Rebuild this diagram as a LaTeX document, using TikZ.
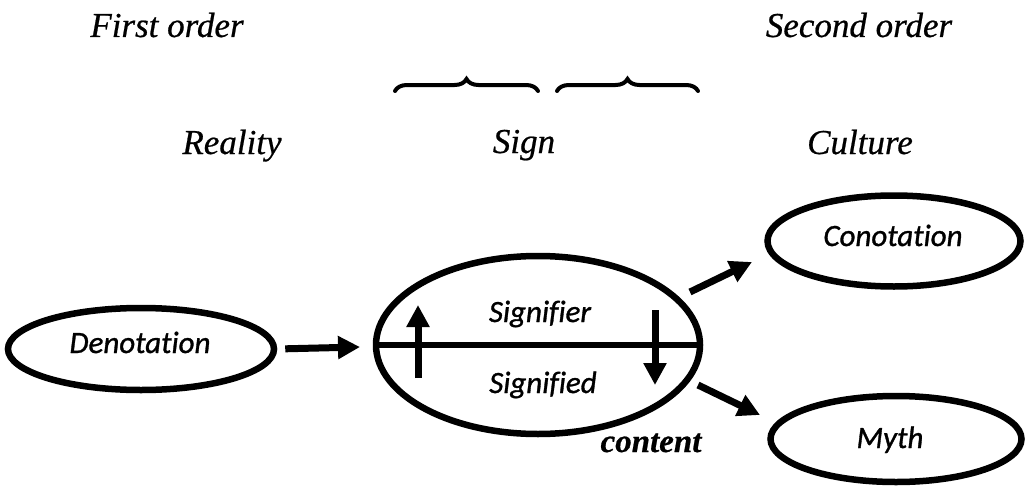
\documentclass[tikz,border=0pt]{standalone}
\usepackage{fontspec}
\setmainfont{Liberation Serif}[FakeBold=0.6]
\newfontfamily\carl{Carlito}[Ligatures=NoCommon,FakeBold=1]
\usetikzlibrary{shapes.geometric,arrows.meta,decorations.pathreplacing}
\begin{document}
\begin{tikzpicture}[x=1pt,y=1pt,
  oval/.style={ellipse, draw, line width=6.5pt, inner sep=0pt},
  serlab/.style={font=\fontsize{35}{40}\selectfont\itshape, anchor=base, inner sep=0pt},
  sanlab/.style={font=\carl\fontsize{31}{36}\selectfont\itshape, anchor=base, inner sep=0pt},
  fat/.style={line width=7pt, -{Triangle[length=22pt,width=22pt]}},
  bracestyle/.style={decorate, decoration={brace, amplitude=12pt}, line width=4pt, line cap=round}]
\useasboundingbox (0,0) rectangle (1025,-487);
% headings
\node[serlab] (fo) at (167,-37) {First order};
\node[serlab] (so) at (859,-37) {Second order};
\node[serlab] (re) at (232,-154) {Reality};
\node[serlab] (sg) at (524,-153) {Sign};
\node[serlab] (cu) at (860,-154) {Culture};
% braces
\coordinate (b1a) at (395,-91);
\coordinate (b1b) at (538,-91);
\coordinate (b2a) at (557,-91);
\coordinate (b2b) at (698,-91);
\draw[bracestyle] (b1a) -- (b1b);
\draw[bracestyle] (b2a) -- (b2b);
% ellipses
\node[oval, minimum width=266pt, minimum height=82pt] (den) at (141,-349) {};
\node[oval, minimum width=324pt, minimum height=178pt] (sign) at (538,-345) {};
\node[oval, minimum width=253pt, minimum height=91pt] (con) at (894,-241) {};
\node[oval, minimum width=251pt, minimum height=86pt] (myth) at (896,-439) {};
% texts
\node[sanlab] (dent) at (140,-353) {Denotation};
\node[sanlab] (sfr) at (540,-322) {Signifier};
\node[sanlab] (sfd) at (543,-393) {Signified};
\node[sanlab] (cont) at (893,-246) {Conotation};
\node[sanlab] (myt) at (890,-448) {Myth};
\node[font=\fontsize{33}{38}\selectfont\bfseries\itshape, anchor=base, inner sep=0pt] (ctt) at (651,-452) {content};
% divider
\draw[line width=5.5pt] (sign.west) -- (sign.east);
% arrows
\draw[fat, shorten <=8pt] (den.east) -- (360,-347) coordinate (dtip);
\coordinate (ua) at (418,-378);
\coordinate (ub) at (418,-305);
\coordinate (da) at (655,-310);
\coordinate (db) at (655,-385);
\draw[fat] (ua) -- (ub);
\draw[fat] (da) -- (db);
\coordinate (c1) at (690,-292);
\coordinate (c2) at (752,-262);
\coordinate (m1) at (698,-385);
\coordinate (m2) at (760,-415);
\draw[fat] (c1) -- (c2);
\draw[fat] (m1) -- (m2);
\end{tikzpicture}
\end{document}
